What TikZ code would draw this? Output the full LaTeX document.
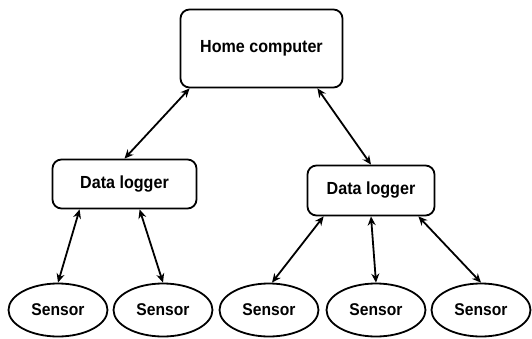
\documentclass[tikz,border=0pt]{standalone}
\usepackage{fontspec}
\setmainfont{Liberation Sans}[FakeStretch=0.92]
\usetikzlibrary{shapes.geometric,arrows.meta}
\tikzset{
  box/.style={draw, line width=1.8pt, rounded corners=9pt, inner sep=0pt, font=\fontsize{17.5}{20}\selectfont\bfseries},
  sensor/.style={draw, ellipse, line width=1.8pt, inner sep=0pt, minimum width=99pt, minimum height=53pt, font=\fontsize{17}{20}\selectfont\bfseries},
  link/.style={line width=1.8pt, {Stealth[length=9pt,width=8pt]}-{Stealth[length=9pt,width=8pt]}}
}
\begin{document}
\begin{tikzpicture}[x=1pt,y=-1pt]
\useasboundingbox (0,0) rectangle (532,339);
\node[box, minimum width=162pt, minimum height=78pt] (hc) at (261.5,48.5) {Home computer};
\node[box, minimum width=144pt, minimum height=49pt] (ll) at (124.5,184) {Data logger};
\node[box, minimum width=127pt, minimum height=50pt] (lr) at (371,190.5) {Data logger};
\node[sensor] (s1) at (58,310) {Sensor};
\node[sensor] (s2) at (163,310) {Sensor};
\node[sensor] (s3) at (269,310) {Sensor};
\node[sensor] (s4) at (376,310) {Sensor};
\node[sensor] (s5) at (481,310) {Sensor};
\draw[link] ([xshift=10pt]hc.south west) -- (ll.north);
\draw[link] ([xshift=-26pt]hc.south east) -- (lr.north);
\draw[link] ([xshift=28pt]ll.south west) -- (s1.north);
\draw[link] ([xshift=88pt]ll.south west) -- (s2.north);
\draw[link] ([xshift=17pt]lr.south west) -- ([xshift=3pt]s3.north);
\draw[link] (lr.south) -- (s4.north);
\draw[link] ([xshift=-17pt]lr.south east) -- (s5.north);
\end{tikzpicture}
\end{document}
